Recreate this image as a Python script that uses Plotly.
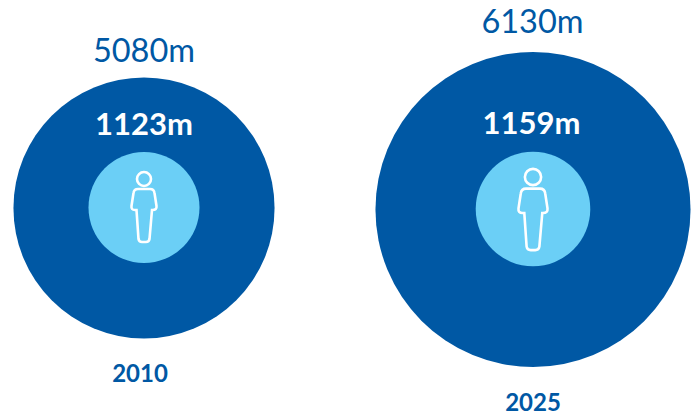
import plotly.graph_objects as go

years = ["2010", "2025"]
total_m = [5080, 6130]
inner_m = [1123, 1159]
total_labels = ["5080m", "6130m"]
inner_labels = ["1123m", "1159m"]

DARK = "#0058A4"
LIGHT = "#6BCFF6"

# layout positions, in pixels of the 696x415 page
cx = [144, 533]
cy = [208, 209.5]
inner_cy = [207.5, 209]
total_label_x = [144, 532.5]
inner_label_x = [144, 531.5]
year_label_x = [140, 533]
total_label_y = [54, 25]
inner_label_y = [127, 126]
year_label_y = [376, 405]
icon_y = [207, 209.5]
icon_scale = [1.0, 1.16]
OUTER_K = 0.0514
INNER_K = 111 / 1123

fig = go.Figure()
fig.add_trace(go.Scatter(x=cx, y=cy, mode="markers", hoverinfo="skip",
    marker=dict(size=[v * OUTER_K for v in total_m], sizemode="diameter", color=DARK, line=dict(width=0), opacity=1)))
fig.add_trace(go.Scatter(x=cx, y=inner_cy, mode="markers", hoverinfo="skip",
    marker=dict(size=[v * INNER_K for v in inner_m], sizemode="diameter", color=LIGHT, line=dict(width=0), opacity=1)))
fig.add_trace(go.Scatter(x=total_label_x, y=total_label_y, mode="text", text=total_labels, hoverinfo="skip",
    textfont=dict(family="Lato", size=32.5, color=DARK), cliponaxis=False))
fig.add_trace(go.Scatter(x=inner_label_x, y=inner_label_y, mode="text", text=[f"<b>{t}</b>" for t in inner_labels], hoverinfo="skip",
    textfont=dict(family="Lato", size=31, color="white")))
fig.add_trace(go.Scatter(x=year_label_x, y=year_label_y, mode="text", text=[f"<b>{t}</b>" for t in years], hoverinfo="skip",
    textfont=dict(family="Lato", size=24, color=DARK), cliponaxis=False))


def person(x0, y0, s):
    def P(dx, dy):
        return f"{x0 + dx * s:.2f},{y0 + dy * s:.2f}"
    return (
        f"M{P(-6, -18)} L{P(6, -18)} Q{P(10, -18)} {P(10.5, -14)} "
        f"L{P(12.5, -1)} Q{P(13, 3)} {P(8.5, 3)} L{P(8, 3)} "
        f"L{P(5.5, 32)} Q{P(5, 35)} {P(2, 35)} L{P(-2, 35)} Q{P(-5, 35)} {P(-5.5, 32)} "
        f"L{P(-7.5, 3)} L{P(-9, 3)} Q{P(-13, 3)} {P(-12.5, -1)} "
        f"L{P(-10.5, -14)} Q{P(-10, -18)} {P(-6, -18)} Z"
    )


line = dict(color="white", width=2.6)
for x0, y0, s in zip(cx, icon_y, icon_scale):
    fig.add_shape(type="path", path=person(x0, y0, s), line=line, layer="above")
    r = 7 * s
    head_y = y0 - 28 * s
    fig.add_shape(type="circle", x0=x0 - r, x1=x0 + r, y0=head_y - r, y1=head_y + r, line=line, layer="above")

fig.update_layout(
    width=696, height=415, autosize=False,
    margin=dict(l=0, r=0, t=0, b=0),
    paper_bgcolor="white", plot_bgcolor="white",
    showlegend=False,
    xaxis=dict(range=[0, 696], visible=False, fixedrange=True),
    yaxis=dict(range=[415, 0], visible=False, fixedrange=True),
)
fig.write_html("out.html", config={"displayModeBar": False},
               post_script="document.body.style.margin='0';document.documentElement.style.overflow='hidden';")
